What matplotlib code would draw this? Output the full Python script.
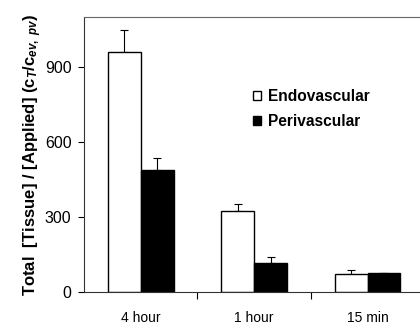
import numpy as np
import matplotlib.pyplot as plt

plt.rcParams['font.family'] = ['Liberation Sans', 'DejaVu Sans']
plt.rcParams['mathtext.fontset'] = 'custom'
plt.rcParams['mathtext.rm'] = 'Liberation Sans:bold'
plt.rcParams['mathtext.it'] = 'Liberation Sans:bold:italic'
plt.rcParams['mathtext.bf'] = 'Liberation Sans:bold'

# data
groups = ['4 hour', '1 hour', '15 min']
endo = [960, 324, 72]
endo_err = [90, 29, 16]
peri = [487, 115, 75]
peri_err = [47, 24, 0]

fig = plt.figure(figsize=(4.2, 3.28), dpi=100)
ax = fig.add_axes([0.2, 0.11, 0.81, 0.838])

x = np.arange(len(groups))
w = 0.29
ax.bar(x - w / 2, endo, w, color='white', edgecolor='black', linewidth=1.0,
       label='Endovascular', zorder=2)
ax.bar(x + w / 2, peri, w, color='black', edgecolor='black', linewidth=1.0,
       label='Perivascular', zorder=2)
ax.errorbar(x - w / 2, endo, yerr=[np.zeros(3), endo_err], fmt='none',
            ecolor='black', elinewidth=0.8, capsize=3, capthick=0.8, zorder=1)
ax.errorbar(x + w / 2, peri, yerr=[np.zeros(3), peri_err], fmt='none',
            ecolor='black', elinewidth=0.8, capsize=3, capthick=0.8, zorder=1)

ax.set_xlim(-0.5, 2.5)
ax.set_ylim(0, 1100)
ax.set_yticks([0, 300, 600, 900])
ax.tick_params(axis='y', direction='out', length=4, width=0.8, labelsize=11.5, pad=5)

# ticks between groups, labels at group centres
ax.set_xticks([0.5, 1.5])
ax.set_xticklabels([])
ax.set_xticks(x, minor=True)
ax.set_xticklabels(groups, minor=True, fontsize=10)
ax.tick_params(axis='x', which='major', direction='out', length=5, width=0.8)
ax.tick_params(axis='x', which='minor', length=0, pad=14)

ax.spines['right'].set_visible(False)
ax.spines['top'].set_color('#666666')
ax.spines['top'].set_linewidth(0.8)
ax.spines['left'].set_color('#333333')
ax.spines['bottom'].set_color('#333333')

ax.set_ylabel(r'Total  [Tissue] / [Applied] ($\mathbf{c}_{T}$/$\mathbf{c}_{ev,\ pv}$)',
              fontsize=12, fontweight='bold')
ax.yaxis.set_label_coords(-0.118, 0.5)

leg = ax.legend(loc='upper left', bbox_to_anchor=(0.455, 0.79), frameon=False,
                prop={'weight': 'bold', 'size': 11.2}, handlelength=0.55,
                handleheight=0.55, handletextpad=0.4, labelspacing=0.65)

fig.savefig('out.png', dpi=100)
